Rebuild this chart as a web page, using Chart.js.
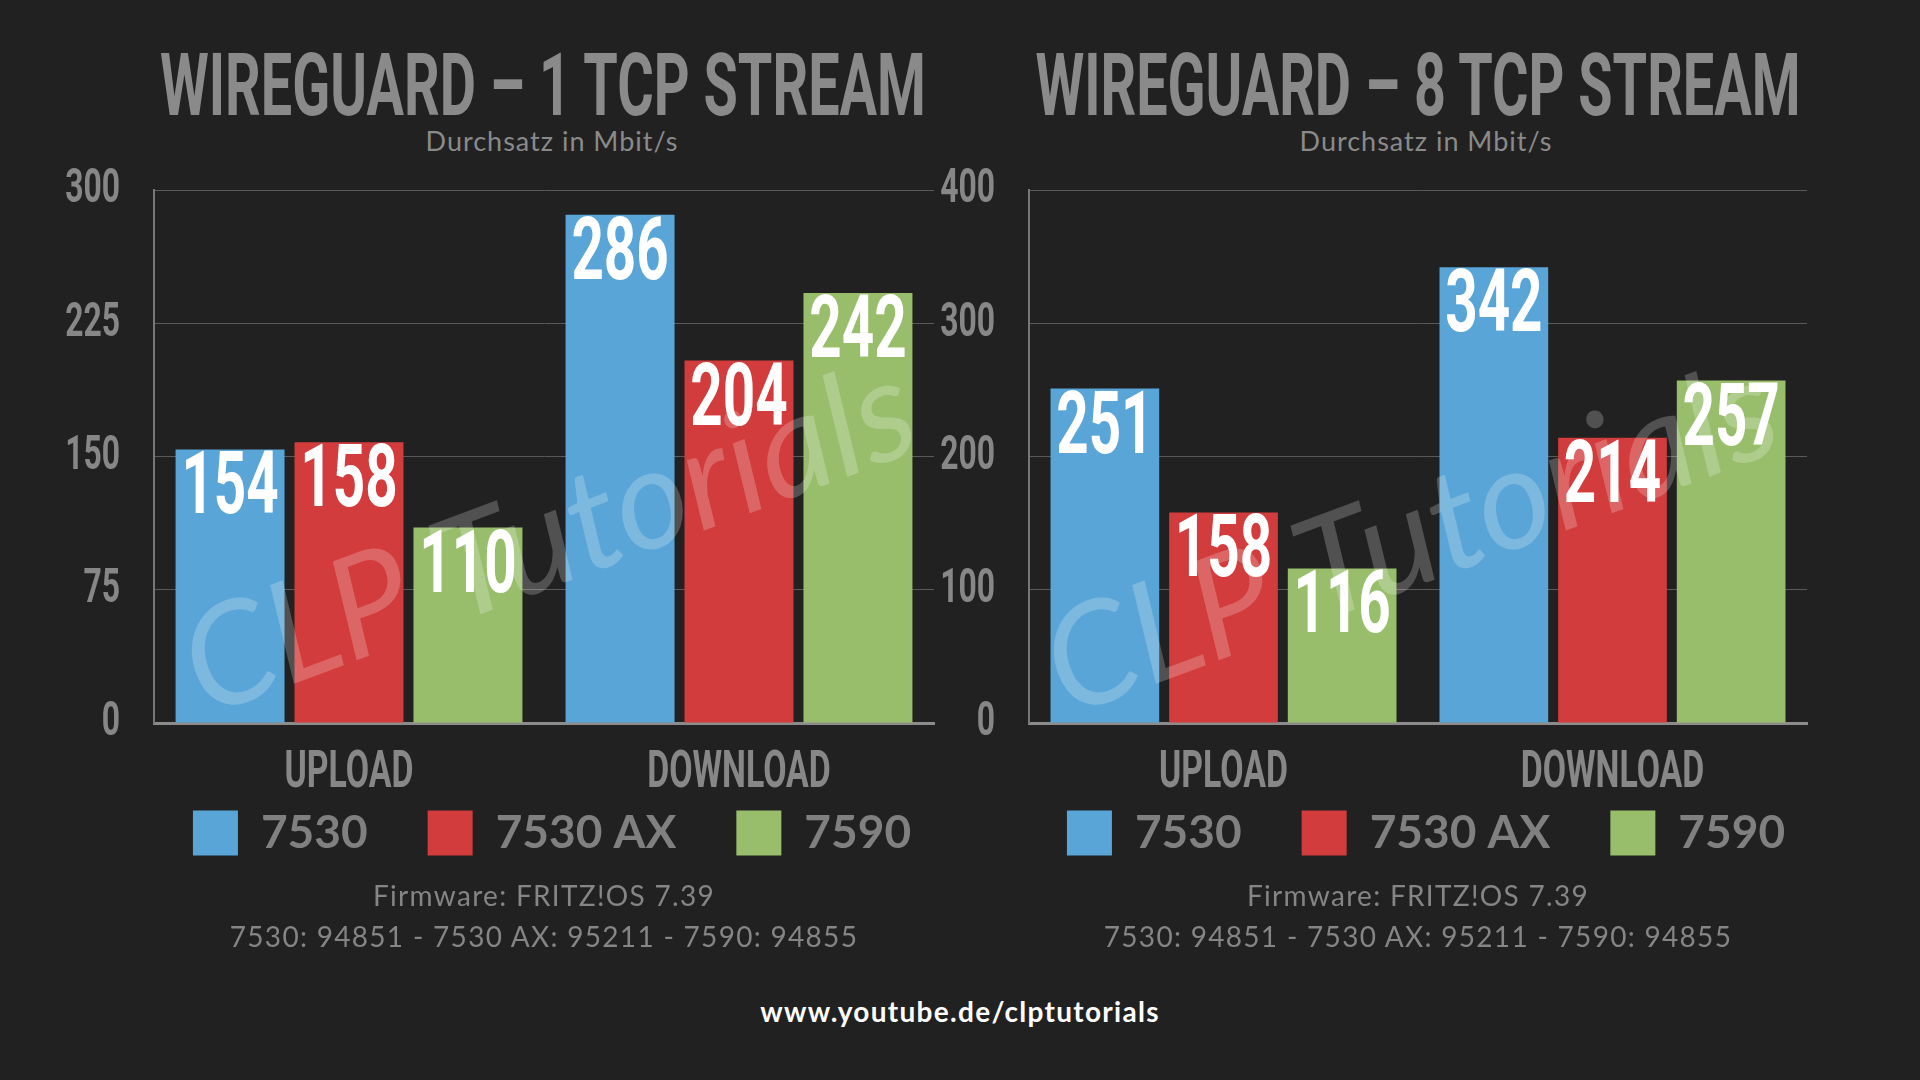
<!DOCTYPE html>
<html>
<head>
<meta charset="utf-8">
<script src="https://cdn.jsdelivr.net/npm/chart.js@4.4.1/dist/chart.umd.min.js"></script>
<style>
  html, body { margin: 0; padding: 0; background: #212121; }
  body { width: 1920px; height: 1080px; position: relative; overflow: hidden; }
  canvas { position: absolute; top: 0; }
  #left { left: 0; }
  #right { left: 940px; }
  .title {
    position: absolute; top: 41px; width: 2000px; text-align: center; white-space: nowrap;
    color: #8a8a8a; font: bold 88px Roboto, sans-serif; line-height: 88px;
  }
  .title span { display: inline-block; }
  .sub {
    position: absolute; top: 127px; width: 600px; text-align: center; letter-spacing: 1px;
    color: #8a8a8a; font: 27px Lato, sans-serif; line-height: 27px;
  }
  .foot {
    position: absolute; width: 900px; text-align: center; white-space: nowrap; letter-spacing: 1.3px;
    color: #858585; font: 28px Lato, sans-serif; line-height: 28px;
  }
  #url {
    position: absolute; top: 997px; left: 510px; width: 900px; text-align: center; letter-spacing: 1.3px;
    color: #fff; font: bold 28px Lato, sans-serif; line-height: 28px;
  }
</style>
</head>
<body>
<div class="title" style="left:-457px" data-w="766"><span>WIREGUARD – 1 TCP STREAM</span></div>
<div class="title" style="left:418px" data-w="765"><span>WIREGUARD – 8 TCP STREAM</span></div>
<div class="sub" style="left:252px">Durchsatz in Mbit/s</div>
<div class="sub" style="left:1126px">Durchsatz in Mbit/s</div>

<canvas id="left" width="1104" height="880"></canvas>
<canvas id="right" width="972" height="880"></canvas>

<div class="foot" style="left:94px; top:881px">Firmware: FRITZ!OS 7.39</div>
<div class="foot" style="left:94px; top:922px">7530: 94851 - 7530 AX: 95211 - 7590: 94855</div>
<div class="foot" style="left:968px; top:881px">Firmware: FRITZ!OS 7.39</div>
<div class="foot" style="left:968px; top:922px">7530: 94851 - 7530 AX: 95211 - 7590: 94855</div>
<div id="url">www.youtube.de/clptutorials</div>

<script>
const categories = ['UPLOAD', 'DOWNLOAD']
const routers = ['7530', '7530 AX', '7590']
const colors = ['rgb(89, 165, 215)', 'rgb(211, 60, 60)', 'rgb(152, 190, 107)']

// 1 TCP stream (Mbit/s)
const oneStream7530 = [154, 286]
const oneStream7530ax = [158, 204]
const oneStream7590 = [110, 242]
const oneStreamTicks = [0, 75, 150, 225, 300]

// 8 TCP streams (Mbit/s)
const eightStream7530 = [251, 342]
const eightStream7530ax = [158, 214]
const eightStream7590 = [116, 257]
const eightStreamTicks = [0, 100, 200, 300, 400]

// Text in Roboto gets squeezed horizontally to look like the condensed original font
const SQUEEZE = 0.65
const squeeze = canvas => {
  const ctx = canvas.getContext('2d')
  const fill = ctx.fillText
  ctx.fillText = function (text, x, y, ...rest) {
    if (!this.font.includes('Roboto')) return fill.call(this, text, x, y, ...rest)
    this.save()
    this.translate(x, y)
    this.scale(SQUEEZE, 1)
    fill.call(this, text, 0, 0, ...rest)
    this.restore()
  }
  return canvas
}

// Same idea for the big titles
document.querySelectorAll('.title').forEach(el => {
  const span = el.querySelector('span')
  const s = Number(el.dataset.w) / span.getBoundingClientRect().width
  span.style.transform = `scaleX(${s})`
})

// Watermark + white value labels inside the bars
const barLabels = {
  id: 'barLabels',
  afterDatasetsDraw (chart, args, opts) {
    const { ctx, chartArea } = chart
    ctx.save()
    ctx.translate(chartArea.left + opts.dx, chartArea.bottom - 6)
    ctx.rotate(-20.5 * Math.PI / 180)
    ctx.font = 'italic 141px Lato'
    ctx.fillStyle = 'rgba(255, 255, 255, 0.22)'
    ctx.textAlign = 'left'
    ctx.textBaseline = 'alphabetic'
    ctx.fillText('CLP Tutorials', 0, 0)
    ctx.restore()

    chart.data.datasets.forEach((ds, i) => {
      chart.getDatasetMeta(i).data.forEach((bar, j) => {
        ctx.save()
        ctx.font = 'bold 87px Roboto'
        ctx.fillStyle = '#fff'
        ctx.textAlign = 'center'
        ctx.textBaseline = 'alphabetic'
        ctx.fillText(String(ds.data[j]), bar.x, bar.y + 64)
        ctx.restore()
      })
    })
  }
}

const barChart = (canvas, values, ticks, yWidth, rightWidth, markDx) => new Chart(squeeze(canvas), {
  type: 'bar',
  data: {
    labels: categories,
    datasets: routers.map((r, i) => ({
      label: r,
      data: values[i],
      backgroundColor: colors[i],
      borderWidth: 0,
      categoryPercentage: 0.915,
      barPercentage: 0.916
    }))
  },
  options: {
    responsive: false,
    animation: false,
    layout: { padding: { top: 190, right: 0, bottom: 14, left: 0 } },
    scales: {
      x: {
        grid: { display: false },
        border: { color: '#8c8c8c', width: 3 },
        // mirror stops the labels being clipped to the thin axis box
        ticks: { mirror: true, padding: -82, color: '#878787', maxRotation: 0, font: { family: 'Roboto', weight: 'bold', size: 52 } },
        afterFit: s => { s.height = 27 }
      },
      y: {
        min: 0,
        max: ticks[ticks.length - 1],
        grid: { color: '#5a5a5a', lineWidth: 1, drawTicks: false },
        border: { color: '#777', width: 2 },
        ticks: { stepSize: ticks[1] - ticks[0], color: '#878787', padding: 34, font: { family: 'Roboto', weight: 'bold', size: 49 } },
        afterFit: s => { s.width = yWidth }
      },
      // empty right margin so the legend can be centred like the original
      gap: {
        position: 'right',
        grid: { display: false },
        border: { display: false },
        ticks: { display: false },
        afterFit: s => { s.width = rightWidth }
      }
    },
    plugins: {
      legend: {
        position: 'bottom',
        labels: {
          boxWidth: 45,
          boxHeight: 45,
          padding: 60,
          color: '#808080',
          font: { family: 'Lato', weight: 'bold', size: 46 }
        }
      },
      tooltip: { enabled: false },
      barLabels: { dx: markDx }
    }
  },
  plugins: [barLabels]
})

barChart(document.querySelector('#left'), [oneStream7530, oneStream7530ax, oneStream7590], oneStreamTicks, 154, 170, 51)
barChart(document.querySelector('#right'), [eightStream7530, eightStream7530ax, eightStream7590], eightStreamTicks, 89, 105, 38)
</script>
</body>
</html>
